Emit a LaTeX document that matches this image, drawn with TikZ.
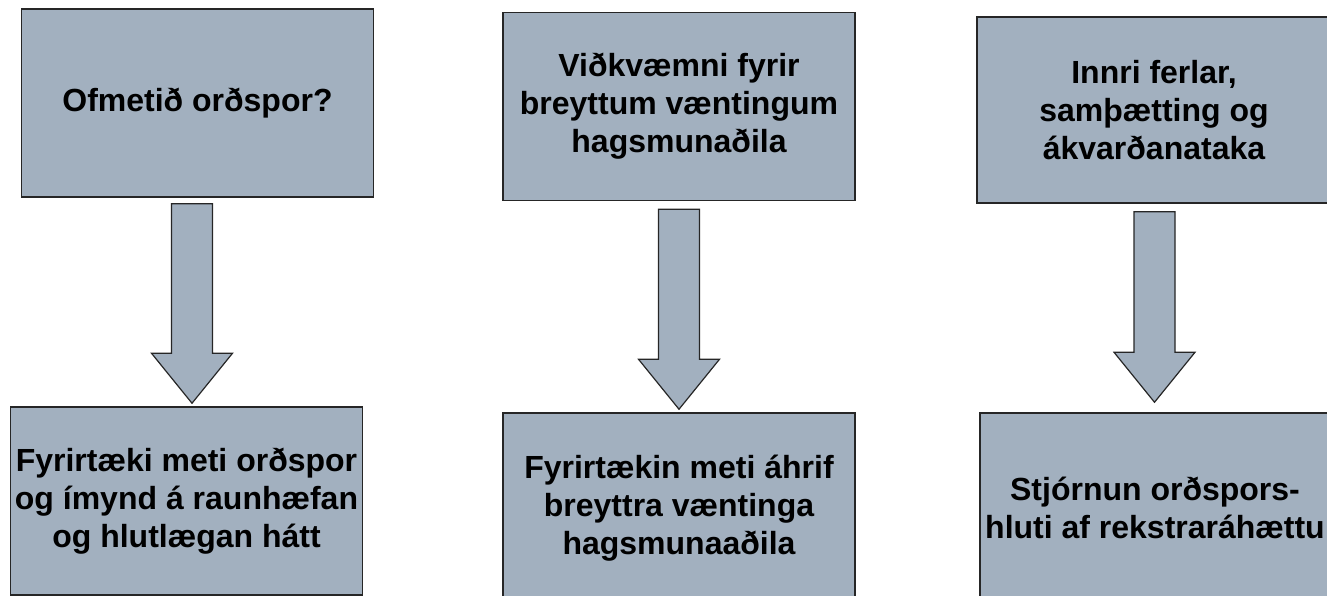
\documentclass[tikz,border=0pt]{standalone}
\usepackage{fontspec}
\setmainfont{Liberation Sans}
\usetikzlibrary{calc}
\definecolor{boxgray}{RGB}{162,176,191}

% fat block arrow from the bottom of one box to the top of the next
\newcommand{\fatarrow}[4]{%
  \draw[fat] let \p1=(#1.south), \p2=(#2.north), \p3=($(#1.south)!.5!(#2.north)$) in
    (\x3-20.5pt,\y1-#3) -- (\x3+20.5pt,\y1-#3) -- (\x3+20.5pt,\y2+#4+50pt)
    -- (\x3+40.5pt,\y2+#4+50pt) -- (\x3,\y2+#4) -- (\x3-40.5pt,\y2+#4+50pt)
    -- (\x3-20.5pt,\y2+#4+50pt) -- cycle;}

\begin{document}
\begin{tikzpicture}[x=1pt, y=-1pt,
  box/.style={draw=black!85, line width=1.5pt, fill=boxgray, minimum width=352pt,
    minimum height=188pt, inner sep=0pt, align=center,
    font=\fontsize{32}{38}\selectfont\bfseries},
  fat/.style={draw=black!85, line width=1.2pt, fill=boxgray, line join=miter}]
\useasboundingbox (0,0) rectangle (1327,596);

\node at (197.5,103) (ofmat) [box] {Ofmetið orðspor?};
\node at (186.5,501) (meta) [box] {Fyrirtæki meti orðspor\\og ímynd á raunhæfan\\og hlutlægan hátt};

\node at (679,106.5) (vidk) [box] {Viðkvæmni fyrir\\breyttum væntingum\\hagsmunaðila};
\node at (679,508) (ahrif) [box, minimum height=190pt] {Fyrirtækin meti áhrif\\breyttra væntinga\\hagsmunaaðila};

\node at (1154,110) (innri) [box, minimum width=354pt, minimum height=186pt] {Innri ferlar,\\samþætting og\\ákvarðanataka};
\node at (1155,508) (stjorn) [box, minimum width=350pt, minimum height=190pt] {Stjórnun orðspors-\\hluti af rekstraráhættu};

\fatarrow{ofmat}{meta}{6pt}{3pt}
\fatarrow{vidk}{ahrif}{8pt}{3pt}
\fatarrow{innri}{stjorn}{8pt}{10pt}
\end{tikzpicture}
\end{document}
